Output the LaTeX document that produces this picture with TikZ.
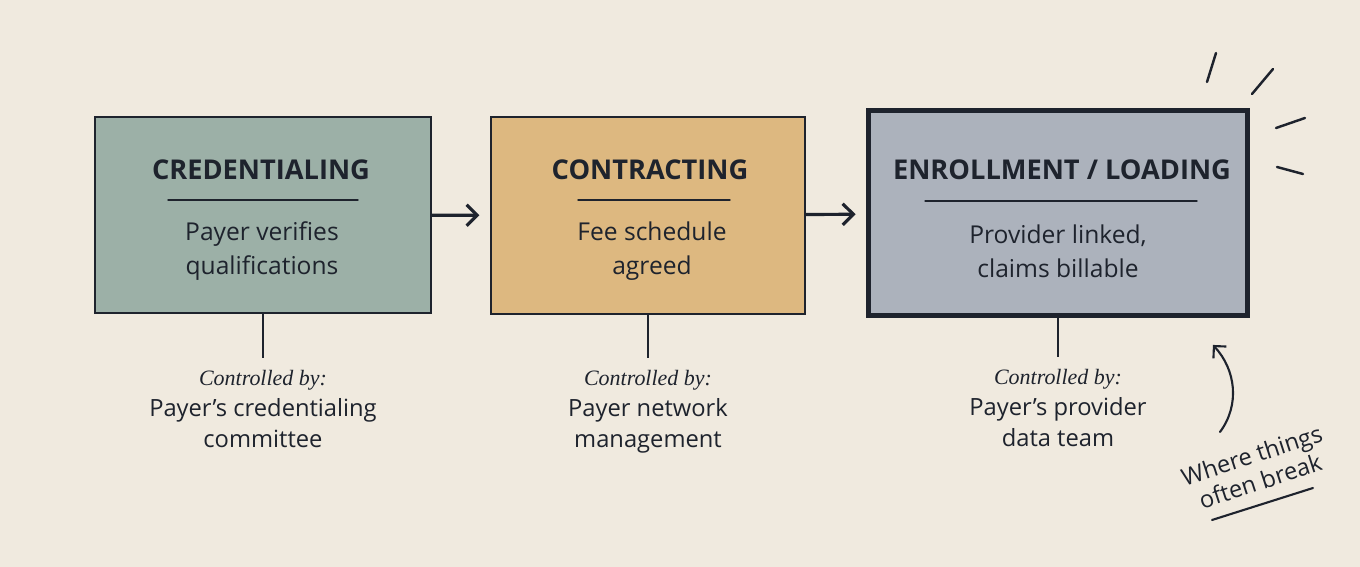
\documentclass[tikz,border=0pt]{standalone}
\usepackage{fontspec}
\setmainfont{Open Sans}
\newfontfamily\ctrlfont{Liberation Serif}
\usetikzlibrary{positioning,arrows.meta}
\definecolor{paper}{RGB}{240,234,223}
\definecolor{ink}{RGB}{30,35,45}
\definecolor{credfill}{RGB}{156,176,167}
\definecolor{contrfill}{RGB}{221,184,128}
\definecolor{enrollfill}{RGB}{172,178,188}
\begin{document}
\begin{tikzpicture}[x=0.02cm,y=-0.02cm]
% Estilos
\tikzset{
  stage/.style={rectangle, draw=ink, line width=1.2pt, inner sep=0pt},
  title/.style={font=\fontsize{15.5}{19}\selectfont\bfseries, text=ink},
  body/.style={font=\fontsize{14}{19.5}\selectfont, text=ink, align=center},
  owner/.style={font=\fontsize{13.5}{17.5}\selectfont, text=ink, align=center, inner xsep=0pt, inner ysep=7pt},
  flow/.style={draw=ink, line width=1.8pt, -{Straight Barb[length=6pt,width=12pt]}},
  stem/.style={draw=ink, line width=1.3pt},
  ink/.style={draw=ink, line width=1.4pt, line cap=round}
}

% Fundo
\fill[paper] (0,0) rectangle (1360,567);
\useasboundingbox (0,0) rectangle (1360,567);

% Etapa CREDENTIALING
\node[stage, fill=credfill, minimum width=6.72cm, minimum height=3.92cm] (cred) at (263,215) {};
\node[title] (cred_title) at (261,170) {CREDENTIALING};
\draw[ink, line width=0.8pt] ([xshift=-1.9cm,yshift=0.3cm]cred.center) -- ([xshift=1.9cm,yshift=0.3cm]cred.center);
\node[body] (cred_body) at (262,251) {Payer verifies\\qualifications};

% Etapa CONTRACTING
\node[stage, fill=contrfill, minimum width=6.28cm, minimum height=3.94cm] (contr) at (648,215.5) {};
\node[title] (contr_title) at (650,170) {CONTRACTING};
\draw[ink, line width=0.8pt] ([xshift=-1.4cm,yshift=0.31cm]contr.center) -- ([xshift=1.64cm,yshift=0.31cm]contr.center);
\node[body] (contr_body) at (652,251) {Fee schedule\\agreed};

% Etapa ENROLLMENT / LOADING
\node[stage, fill=enrollfill, line width=2.8pt, minimum width=7.58cm, minimum height=4.1cm] (enroll) at (1058,213) {};
\node[title] (enroll_title) at (1062,170) {ENROLLMENT / LOADING};
\draw[ink, line width=0.8pt] ([xshift=-2.66cm,yshift=0.24cm]enroll.center) -- ([xshift=2.78cm,yshift=0.24cm]enroll.center);
\node[body] (enroll_body) at (1058,251) {Provider linked,\\claims billable};

% Fluxo
\draw[flow, shorten >=6pt] (cred) -- (contr);
\draw[flow, shorten >=6pt] (contr) -- (enroll);

% Responsaveis
\node[owner, below=0.88cm of cred] (cred_owner) {{\ctrlfont\itshape\fontsize{12.5}{16}\selectfont Controlled by:}\\Payer’s credentialing\\committee};
\node[owner, below=0.86cm of contr] (contr_owner) {{\ctrlfont\itshape\fontsize{12.5}{16}\selectfont Controlled by:}\\Payer network\\management};
\node[owner, below=0.78cm of enroll] (enroll_owner) {{\ctrlfont\itshape\fontsize{12.5}{16}\selectfont Controlled by:}\\Payer’s provider\\data team};
\draw[stem] (cred) -- (cred_owner);
\draw[stem] (contr) -- (contr_owner);
\draw[stem] (enroll) -- (enroll_owner);

% Destaque
\draw[ink] (1207,82) -- (1216,53);
\draw[ink] (1252,94) -- (1273,69);
\draw[ink] (1276,128) -- (1305,118);
\draw[ink] (1277,167) -- (1303,174);

% Nota
\node[font=\fontsize{13.5}{15.5}\selectfont, text=ink, align=center, inner sep=0pt, rotate=18] (brk_note) at (1256,468) {Where things\\often break};
\coordinate (brk_tail) at (1220,432);
\draw[ink, line width=1.2pt, -{Straight Barb[length=5pt,width=10pt]}] (brk_tail) .. controls (1240,405) and (1236,370) .. ([shift={(-0.74cm,-0.54cm)}]enroll.south east);
\draw[ink, line width=1.2pt] (1212,520) -- (1313,488);

\end{tikzpicture}
\end{document}
